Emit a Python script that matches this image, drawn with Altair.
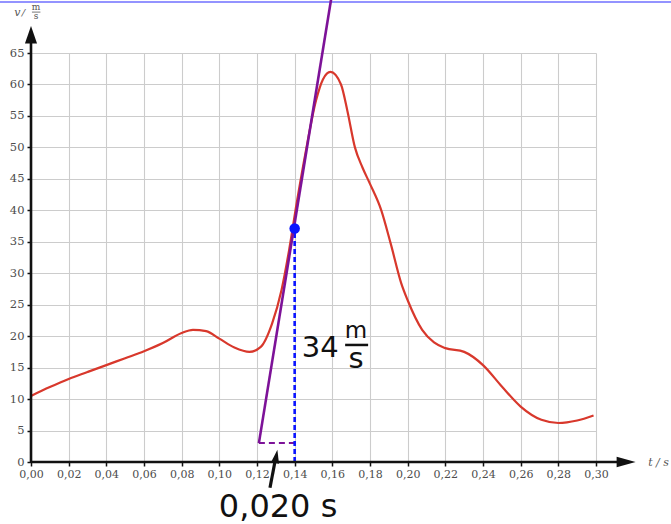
import altair as alt
import pandas as pd

# ---- data ----
curve_t = [0.000, 0.010, 0.020, 0.030, 0.040, 0.050, 0.060, 0.070, 0.080, 0.086,
           0.093, 0.100, 0.108, 0.116, 0.122, 0.128, 0.133, 0.137, 0.141, 0.146,
           0.1513, 0.155, 0.159, 0.1646, 0.168, 0.172, 0.176, 0.180, 0.186, 0.191,
           0.1966, 0.200, 0.2077, 0.214, 0.220, 0.230, 0.240, 0.250, 0.260, 0.271,
           0.280, 0.290, 0.2987]
curve_v = [10.5, 11.9, 13.2, 14.3, 15.4, 16.5, 17.6, 18.9, 20.5, 21.0,
           20.8, 19.6, 18.2, 17.5, 18.3, 22.0, 27.3, 33.6, 41.0, 49.5,
           57.4, 60.8, 62.0, 60.0, 55.8, 50.0, 46.8, 44.2, 40.0, 34.7,
           28.4, 25.7, 21.0, 19.0, 18.1, 17.5, 15.4, 12.0, 8.8, 6.7,
           6.2, 6.6, 7.4]

tangent_t = [0.121, 0.1595]
tangent_v = [3.0, 73.8]

delta_t_t = [0.121, 0.140]
delta_t_v = [3.0, 3.0]

delta_v_t = [0.140, 0.140]
delta_v_v = [0.0, 37.1]

point_t = [0.140]
point_v = [37.1]

x_ticks = [round(i * 0.02, 2) for i in range(16)]
y_ticks = [i * 5 for i in range(14)]

x_axis_end = 0.316
y_axis_end = 67.9

X = alt.Scale(domain=[0, 0.30], nice=False, zero=False)
Y = alt.Scale(domain=[0, 65], nice=False, zero=False)

XAX = alt.Axis(values=x_ticks, grid=True, domain=False, labelOverlap=False,
               labelBound=False, labelFlush=False, tickCount=16, labelFontSize=11,
               labelExpr="replace(format(datum.value, '.2f'), '.', ',')")
YAX = alt.Axis(values=y_ticks, grid=True, domain=False, labelOverlap=False,
               labelBound=False, labelFlush=False, tickCount=14, labelFontSize=11.5)


def xe(field="t"):
    return alt.X(f"{field}:Q", scale=X, title=None, axis=XAX)


def ye(field="v"):
    return alt.Y(f"{field}:Q", scale=Y, title=None, axis=YAX)


def chart_of(df):
    return alt.Chart(pd.DataFrame(df))


curve = chart_of({"t": curve_t, "v": curve_v}).mark_line(
    color="#d8382c", strokeWidth=2.2, interpolate="monotone").encode(x=xe(), y=ye())

tangent = chart_of({"t": tangent_t, "v": tangent_v}).mark_line(
    color="#7d1298", strokeWidth=2.6).encode(x=xe(), y=ye())

dt_line = chart_of({"t": delta_t_t, "v": delta_t_v}).mark_line(
    color="#7d1298", strokeWidth=2, strokeDash=[6, 4]).encode(x=xe(), y=ye())

dv_line = chart_of({"t": delta_v_t, "v": delta_v_v}).mark_line(
    color="#0a14ff", strokeWidth=2.6, strokeDash=[5, 3]).encode(x=xe(), y=ye())

dot = chart_of({"t": point_t, "v": point_v}).mark_circle(
    color="#0a14ff", size=110, opacity=1).encode(x=xe(), y=ye())

xaxis_line = chart_of({"t": [0.0], "t2": [x_axis_end], "v": [0.0]}).mark_rule(
    color="#111111", strokeWidth=2.6).encode(x=xe(), x2="t2:Q", y=ye())
yaxis_line = chart_of({"t": [0.0], "v": [0.0], "v2": [y_axis_end]}).mark_rule(
    color="#111111", strokeWidth=2.6).encode(x=xe(), y=ye(), y2="v2:Q")
xarrow = chart_of({"t": [x_axis_end], "v": [0.0]}).mark_point(
    shape="M1,0 L-1,-0.55 L-1,0.55 Z", filled=True, color="#111111", size=360,
    opacity=1).encode(x=xe(), y=ye())
yarrow = chart_of({"t": [0.0], "v": [y_axis_end]}).mark_point(
    shape="M0,-1 L0.7,1 L-0.7,1 Z", filled=True, color="#111111", size=300,
    opacity=1).encode(x=xe(), y=ye())

top_line = chart_of({"t": [-0.02], "t2": [0.36], "v": [73.1]}).mark_rule(
    color="#6f6fff", strokeWidth=1.5).encode(x=xe(), x2="t2:Q", y=ye())


def txt(t, v, s, **kw):
    return chart_of({"t": [t], "v": [v], "s": [s]}).mark_text(**kw).encode(
        x=xe(), y=ye(), text="s:N")


sans = dict(font="DejaVu Sans", baseline="alphabetic", color="#111111")
ann34 = txt(0.1438, 16.7, "34", fontSize=29, align="left", **sans)
ann_m = txt(0.1726, 19.7, "m", fontSize=23, align="center", **sans)
ann_s = txt(0.1726, 15.0, "s", fontSize=29, align="center", **sans)
ann_bar = chart_of({"t": [0.1668], "t2": [0.1790], "v": [18.6]}).mark_rule(
    color="#111111", strokeWidth=2.5).encode(x=xe(), x2="t2:Q", y=ye())

ann_dt = txt(0.1312, -8.8, "0,020 s", fontSize=32, align="center", **sans)
arr_line = chart_of({"t": [0.1269], "t2": [0.1300], "v": [-4.1], "v2": [0.8]}).mark_rule(
    color="#111111", strokeWidth=3.2).encode(x=xe(), x2="t2:Q", y=ye(), y2="v2:Q")
arr_head = chart_of({"t": [0.1302], "v": [0.9]}).mark_point(
    shape="M0,-1 L0.6,1 L-0.6,1 Z", filled=True, color="#111111", size=180,
    angle=10, opacity=1).encode(x=xe(), y=ye())

lab_col = "#555555"
serif = dict(font="DejaVu Serif", baseline="alphabetic", color=lab_col)
vt = txt(-0.0072, 70.9, "v", fontSize=11, fontStyle="italic", align="center", **serif)
slash = txt(-0.0040, 70.9, "/", fontSize=10, fontStyle="italic", align="center", **serif)
vm = txt(0.0027, 71.9, "m", fontSize=9, align="center", **serif)
vs = txt(0.0027, 70.35, "s", fontSize=9, align="center", **serif)
vbar = chart_of({"t": [0.0005], "t2": [0.0050], "v": [71.5]}).mark_rule(
    color=lab_col, strokeWidth=0.8).encode(x=xe(), x2="t2:Q", y=ye())
tlab = txt(0.3277, -0.7, "t / s", fontSize=11, fontStyle="italic", align="left", **serif)

chart = alt.layer(
    top_line, curve, dt_line, dv_line, tangent, dot,
    xaxis_line, yaxis_line, xarrow, yarrow,
    ann34, ann_m, ann_s, ann_bar, ann_dt, arr_line, arr_head,
    vt, slash, vm, vs, vbar, tlab
).properties(
    width=565, height=409,
    autosize=alt.AutoSizeParams(type="none"),
    padding={"left": 31, "top": 53, "right": 75, "bottom": 62},
    background="white",
).configure_axis(
    gridColor="#cccccc", gridWidth=1.1,
    tickColor="#111111", tickSize=4, tickWidth=1.5,
    labelFont="DejaVu Serif", labelColor="#4d4d4d",
    labelPadding=2,
).configure_axisY(
    labelPadding=3,
).configure_view(strokeWidth=0)

chart.save("out.html", embed_options={"renderer": "svg", "actions": False})
